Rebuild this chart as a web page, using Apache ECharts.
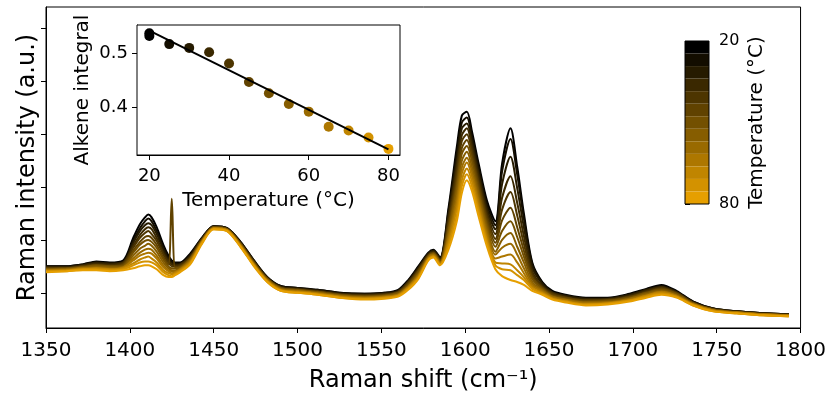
<!DOCTYPE html>
<html>
<head>
<meta charset="utf-8">
<script src="https://cdn.jsdelivr.net/npm/echarts@6/dist/echarts.min.js"></script>
<style>
html, body {margin: 0; padding: 0; background: #fff;}
#chart {width: 829px; height: 398px;}
</style>
</head>
<body>
<div id="chart"></div>
<script>
// Raman shift positions (cm-1) shared by all spectra
const shift = [1350, 1362, 1372, 1380, 1388, 1396, 1402, 1406, 1409, 1411, 1413, 1416, 1420, 1423, 1425, 1427, 1430, 1436, 1443, 1450,
    1458, 1466, 1474, 1482, 1490, 1500, 1512, 1525, 1540, 1552, 1560, 1566, 1572, 1578, 1581, 1585, 1590, 1595, 1598, 1601,
    1604, 1608, 1613, 1618, 1622, 1627, 1631, 1635, 1640, 1646, 1652, 1660, 1672, 1685, 1698, 1708, 1717, 1726, 1736, 1748,
    1762, 1778, 1793];

const temps = [20, 25, 30, 35, 40, 45, 50, 55, 60, 65, 70, 75, 80];

// intensities (a.u.), one list per temperature
const s20 = [64, 64, 66, 69, 68, 70, 93, 107, 114, 117, 114, 104, 86, 75, 70, 68, 68, 77, 93, 105, 103, 89, 70, 53, 44, 42, 40, 37, 36, 37, 40, 50, 64, 78, 81, 73, 123, 186, 218, 222, 202, 169, 131, 110, 169, 205, 166, 118, 68, 48, 39, 35, 32, 32, 36, 41, 45, 39, 28, 21, 18, 16, 15];
const s25 = [64, 64, 66, 68, 67, 69, 90, 103, 110, 113, 110, 100, 83, 73, 69, 67, 67, 76, 93, 105, 103, 89, 70, 53, 44, 42, 40, 37, 36, 37, 39, 49, 63, 77, 80, 72, 120, 180, 211, 216, 197, 165, 127, 106, 161, 194, 158, 113, 66, 47, 38, 34, 31, 31, 35, 40, 44, 38, 28, 21, 18, 16, 15];
const s30 = [63, 63, 65, 68, 67, 68, 88, 100, 106, 108, 106, 97, 81, 71, 67, 66, 66, 75, 92, 105, 103, 88, 69, 52, 43, 41, 39, 36, 35, 36, 39, 48, 62, 77, 80, 72, 116, 173, 205, 210, 192, 160, 123, 102, 148, 176, 144, 104, 63, 46, 37, 34, 31, 31, 35, 40, 43, 38, 27, 21, 18, 16, 15];
const s35 = [63, 63, 65, 67, 66, 68, 85, 96, 102, 104, 102, 93, 78, 70, 66, 65, 66, 74, 92, 104, 102, 88, 69, 52, 43, 41, 39, 36, 35, 36, 38, 48, 61, 76, 79, 71, 113, 167, 198, 205, 187, 156, 119, 97, 134, 156, 129, 95, 59, 44, 37, 33, 30, 30, 34, 39, 43, 37, 27, 20, 18, 16, 15];
const s40 = [62, 62, 64, 66, 65, 67, 83, 93, 98, 100, 97, 90, 76, 68, 64, 64, 65, 73, 91, 104, 102, 87, 68, 51, 42, 40, 38, 35, 34, 35, 38, 47, 60, 75, 78, 70, 109, 161, 192, 199, 182, 151, 115, 92, 122, 140, 116, 87, 56, 43, 36, 32, 29, 30, 33, 38, 42, 37, 27, 20, 17, 15, 14];
const s45 = [62, 62, 64, 65, 64, 66, 80, 89, 94, 95, 93, 86, 73, 66, 133, 63, 64, 72, 91, 104, 102, 87, 68, 51, 42, 40, 38, 35, 34, 35, 37, 46, 59, 75, 78, 70, 106, 154, 185, 193, 177, 147, 111, 88, 111, 124, 104, 80, 53, 42, 35, 32, 29, 29, 33, 37, 41, 36, 26, 20, 17, 15, 14];
const s50 = [61, 62, 63, 65, 64, 65, 78, 86, 90, 91, 89, 83, 71, 64, 62, 62, 63, 72, 90, 104, 102, 87, 67, 51, 42, 40, 38, 35, 33, 34, 37, 45, 58, 74, 77, 69, 102, 148, 179, 187, 172, 142, 107, 84, 100, 110, 94, 74, 51, 41, 34, 31, 28, 29, 32, 37, 40, 36, 26, 20, 17, 15, 14];
const s55 = [61, 61, 63, 64, 63, 64, 75, 82, 85, 87, 85, 79, 68, 62, 60, 60, 62, 71, 90, 103, 101, 86, 67, 50, 41, 39, 37, 34, 33, 34, 36, 44, 56, 73, 76, 68, 99, 142, 172, 181, 166, 138, 103, 79, 91, 98, 84, 68, 48, 40, 33, 30, 27, 28, 31, 36, 39, 35, 26, 19, 17, 15, 14];
const s60 = [60, 61, 62, 63, 62, 63, 72, 78, 81, 82, 81, 75, 65, 60, 59, 59, 61, 70, 89, 103, 101, 86, 66, 50, 41, 39, 37, 34, 32, 33, 35, 43, 55, 73, 76, 68, 95, 135, 165, 175, 161, 133, 99, 76, 83, 87, 76, 62, 46, 39, 33, 30, 27, 27, 31, 35, 38, 34, 25, 19, 17, 15, 14];
const s65 = [60, 60, 62, 62, 61, 63, 70, 75, 77, 78, 77, 72, 63, 59, 57, 58, 61, 69, 89, 103, 101, 85, 66, 49, 40, 38, 36, 33, 32, 33, 35, 43, 54, 72, 75, 67, 92, 129, 159, 170, 156, 129, 95, 72, 74, 76, 68, 57, 44, 38, 32, 29, 26, 27, 30, 34, 38, 34, 25, 19, 17, 15, 14];
const s70 = [59, 60, 61, 62, 61, 62, 67, 71, 73, 74, 72, 68, 60, 57, 56, 57, 60, 68, 88, 103, 101, 85, 65, 49, 40, 38, 36, 33, 31, 32, 34, 42, 53, 71, 74, 66, 88, 123, 152, 164, 151, 124, 91, 68, 67, 66, 60, 53, 42, 37, 31, 28, 25, 26, 29, 34, 37, 33, 25, 19, 16, 14, 13];
const s75 = [59, 59, 61, 61, 60, 61, 65, 68, 69, 69, 68, 65, 58, 55, 54, 56, 59, 67, 88, 102, 100, 84, 65, 48, 39, 37, 35, 32, 31, 32, 34, 41, 52, 71, 74, 66, 85, 116, 146, 158, 146, 120, 88, 65, 61, 60, 55, 50, 41, 36, 31, 28, 25, 26, 29, 33, 36, 33, 24, 18, 16, 14, 13];
const s80 = [58, 59, 60, 60, 59, 60, 62, 64, 65, 65, 64, 61, 55, 53, 53, 55, 58, 66, 87, 102, 100, 84, 64, 48, 39, 37, 35, 32, 30, 31, 33, 40, 51, 70, 73, 65, 81, 110, 139, 152, 141, 115, 84, 61, 54, 50, 48, 45, 39, 35, 30, 27, 24, 25, 28, 32, 35, 32, 24, 18, 16, 14, 13];
const spectra = [s20, s25, s30, s35, s40, s45, s50, s55, s60, s65, s70, s75, s80];

// inset: alkene integral vs temperature, and the linear fit
const insetT = [20, 20, 25, 30, 35, 40, 45, 50, 55, 60, 65, 70, 75, 80];
const insetAlkene = [0.537, 0.532, 0.517, 0.510, 0.502, 0.481, 0.447, 0.426, 0.406, 0.392, 0.364, 0.357, 0.344, 0.323];
const fitT = [20, 80];
const fitAlkene = [0.542, 0.322];

const yTicks = [37, 91, 145, 199, 253, 307];
const insetXTicks = [20, 40, 60, 80];
const insetYTicks = [0.4, 0.5];
const cbarTicks = [20, 80];

const colors = ['#000000', '#130d00', '#261b00', '#3a2800', '#4d3500', '#604200', '#735000',
    '#865d00', '#996a00', '#ad7700', '#c08500', '#d39200', '#e69f00'];

const font = 'DejaVu Sans';
const chart = echarts.init(document.getElementById('chart'));

const series = spectra.map((s, i) => ({
    type: 'line',
    xAxisIndex: 0,
    yAxisIndex: 0,
    data: shift.map((x, j) => [x, s[j]]),
    showSymbol: false,
    smooth: 0.3,
    silent: true,
    lineStyle: {color: colors[i], width: 2},
    z: 2
}));
series.push({
    type: 'scatter',
    xAxisIndex: 1,
    yAxisIndex: 1,
    data: insetT.map((t, k) => [t, insetAlkene[k]]),
    symbolSize: 10,
    itemStyle: {opacity: 1},
    silent: true,
    z: 3
});
series.push({
    type: 'line',
    xAxisIndex: 1,
    yAxisIndex: 1,
    data: fitT.map((t, k) => [t, fitAlkene[k]]),
    showSymbol: false,
    silent: true,
    lineStyle: {color: '#000', width: 2},
    z: 4
});

const blackLine = {lineStyle: {color: '#000', width: 1}};

chart.setOption({
    animation: false,
    textStyle: {fontFamily: font, color: '#000'},
    grid: [
        {left: 46, top: 7, width: 760, height: 328, show: true, borderColor: '#000', borderWidth: 1, backgroundColor: 'rgba(0,0,0,0)'},
        {left: 137, top: 25, width: 263, height: 130, show: true, borderColor: '#000', borderWidth: 1, backgroundColor: '#fff', z: 1},
        {left: 685, top: 41, width: 24, height: 163, show: true, borderColor: '#000', borderWidth: 1, backgroundColor: 'rgba(0,0,0,0)', z: 10}
    ],
    xAxis: [
        {
            gridIndex: 0, type: 'value', min: 1350, max: 1800, interval: 50,
            axisLine: {show: true, onZero: false, ...blackLine},
            axisTick: {show: true, length: 5, ...blackLine},
            axisLabel: {fontSize: 20, color: '#000', margin: 13, fontFamily: font, formatter: (v) => String(v)},
            splitLine: {show: false},
            name: 'Raman shift (cm⁻¹)', nameLocation: 'middle', nameGap: 41,
            nameTextStyle: {fontSize: 24, color: '#000', fontFamily: font}
        },
        {
            gridIndex: 1, type: 'value', min: 16.9, max: 82.9,
            axisLine: {show: true, onZero: false, ...blackLine},
            axisTick: {show: true, length: 5, customValues: insetXTicks, ...blackLine},
            axisLabel: {fontSize: 18, color: '#000', margin: 12, customValues: insetXTicks, fontFamily: font},
            splitLine: {show: false},
            name: 'Temperature (°C)', nameLocation: 'middle', nameGap: 36,
            nameTextStyle: {fontSize: 20, color: '#000', fontFamily: font}
        },
        {gridIndex: 2, type: 'value', min: 0, max: 1, show: false}
    ],
    yAxis: [
        {
            gridIndex: 0, type: 'value', min: 1, max: 329,
            axisLine: {show: true, onZero: false, ...blackLine},
            axisTick: {show: true, length: 5, customValues: yTicks, ...blackLine},
            axisLabel: {show: false},
            splitLine: {show: false},
            name: 'Raman intensity (a.u.)', nameLocation: 'middle', nameGap: 6,
            nameTextStyle: {fontSize: 24, color: '#000', fontFamily: font}
        },
        {
            gridIndex: 1, type: 'value', min: 0.3117, max: 0.5524,
            axisLine: {show: true, onZero: false, ...blackLine},
            axisTick: {show: true, length: 5, customValues: insetYTicks, ...blackLine},
            axisLabel: {fontSize: 18, color: '#000', margin: 9, customValues: insetYTicks,
                formatter: (v) => v.toFixed(1), fontFamily: font},
            splitLine: {show: false},
            name: 'Alkene integral', nameLocation: 'middle', nameGap: 44,
            nameTextStyle: {fontSize: 20, color: '#000', fontFamily: font}
        },
        {
            gridIndex: 2, type: 'value', min: 20, max: 80, inverse: true, position: 'right',
            axisLine: {show: false},
            axisTick: {show: true, length: 5, customValues: cbarTicks, ...blackLine},
            axisLabel: {fontSize: 16, color: '#000', margin: 10, customValues: cbarTicks, fontFamily: font},
            splitLine: {show: false},
            name: 'Temperature (°C)', nameLocation: 'middle', nameGap: 38, nameRotate: 90,
            nameTextStyle: {fontSize: 20, color: '#000', fontFamily: font}
        }
    ],
    visualMap: {
        type: 'piecewise',
        seriesIndex: spectra.length,
        dimension: 0,
        pieces: temps.map((t, i) => ({value: t, color: colors[i]})),
        orient: 'vertical',
        inverse: true,
        left: 685,
        top: 41,
        padding: 0,
        itemWidth: 24,
        itemHeight: 12.54,
        itemGap: 0,
        itemSymbol: 'rect',
        showLabel: false,
        selectedMode: false,
        hoverLink: false,
        z: 5
    },
    series: series
});
</script>
</body>
</html>
